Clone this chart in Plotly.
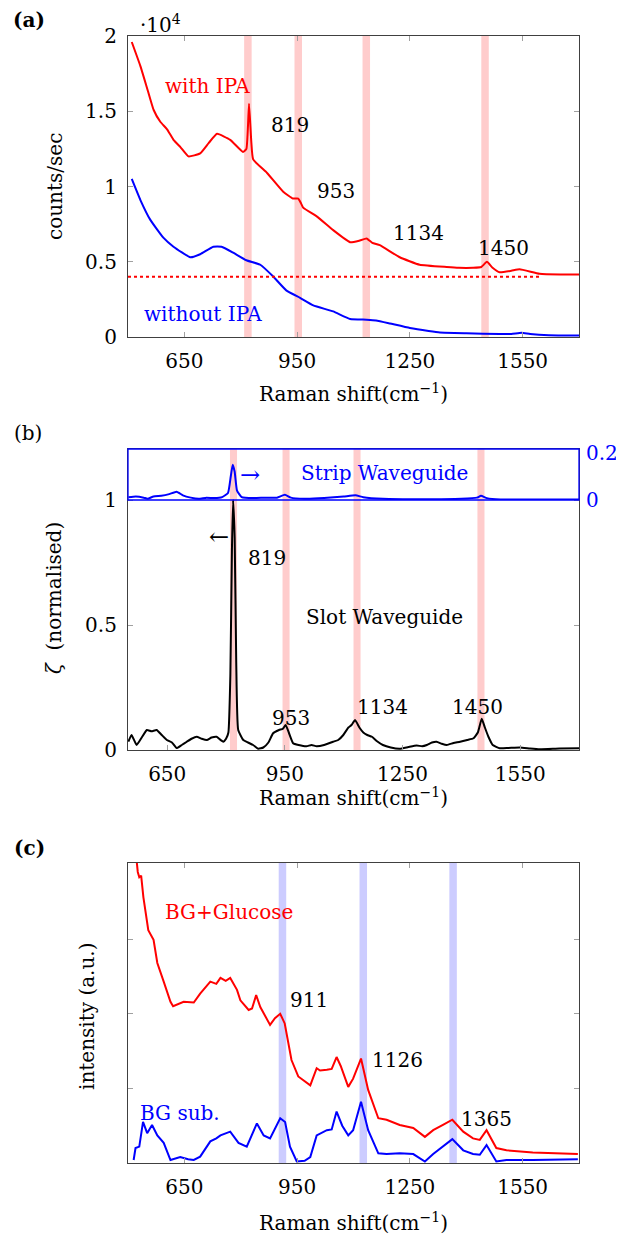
import plotly.graph_objects as go

# ---------------- data ----------------
# (a) raw Raman spectra, counts/sec
a_with_x = [510, 533, 550, 568, 586, 604, 621, 640, 661, 692, 715, 737, 772, 806, 815, 822, 828, 833,
            870, 913, 939, 953, 960, 966, 1003, 1046, 1091, 1115, 1135, 1150, 1170, 1223, 1276, 1348,
            1380, 1418, 1440, 1455, 1470, 1489, 1520, 1542, 1595, 1650, 1700]
a_with_y = [19600, 18000, 16600, 15100, 14300, 13800, 13100, 12600, 12000, 12200, 12900, 13500, 13100,
            12300, 12500, 15500, 13000, 11800, 10900, 9650, 9200, 9200, 8900, 8600, 8000, 7100, 6300,
            6400, 6550, 6250, 6100, 5300, 4800, 4650, 4600, 4600, 4650, 5000, 4600, 4300, 4400, 4500,
            4200, 4150, 4150]
a_without_x = [510, 533, 559, 594, 621, 666, 692, 727, 749, 780, 815, 852, 887, 921, 958, 993, 1046,
               1091, 1135, 1160, 1197, 1250, 1300, 1330, 1400, 1489, 1520, 1547, 1570, 1620, 1700]
a_without_y = [10500, 9100, 7800, 6600, 6000, 5300, 5500, 6000, 6000, 5600, 5100, 4800, 4000, 3100,
               2600, 2100, 1700, 1200, 1150, 1100, 900, 600, 400, 300, 250, 200, 200, 280, 200, 120, 100]
a_ref_x = [500, 1600]
a_ref_y = [4000, 4000]
a_peaks = [819, 953, 1134, 1450]
a_yticks = [0, 5000, 10000, 15000, 20000]
a_yticktext = ["0", "0.5", "1", "1.5", "2"]

# (b) normalised Raman efficiency
b_slot_x = [551, 559, 572, 585, 598, 610, 623, 636, 649, 662, 674, 687, 700, 712, 725, 738, 751, 763,
            776, 786, 793, 800, 806, 811, 815, 818, 822, 826, 831, 844, 856, 869, 882, 895, 908, 920,
            935, 945, 952, 960, 971, 985, 1005, 1018, 1031, 1050, 1073, 1086, 1099, 1112, 1120, 1129,
            1140, 1150, 1160, 1172, 1185, 1200, 1220, 1243, 1265, 1286, 1300, 1312, 1325, 1337, 1350,
            1363, 1380, 1397, 1415, 1431, 1442, 1452, 1460, 1469, 1480, 1498, 1520, 1549, 1575, 1600,
            1650, 1700]
b_slot_y = [0.033, 0.06, 0.02, 0.05, 0.08, 0.075, 0.08, 0.06, 0.04, 0.03, 0.008, 0.02, 0.033, 0.045,
            0.053, 0.045, 0.04, 0.05, 0.053, 0.04, 0.033, 0.045, 0.07, 0.3, 0.8, 1.0, 0.85, 0.35, 0.08,
            0.04, 0.03, 0.02, 0.005, 0.01, 0.03, 0.067, 0.08, 0.085, 0.10, 0.07, 0.027, 0.02, 0.015,
            0.02, 0.015, 0.02, 0.033, 0.04, 0.06, 0.09, 0.1, 0.12, 0.09, 0.07, 0.06, 0.053, 0.035, 0.02,
            0.01, 0.005, 0.012, 0.018, 0.015, 0.02, 0.03, 0.033, 0.025, 0.02, 0.028, 0.033, 0.04,
            0.047, 0.07, 0.125, 0.09, 0.053, 0.02, 0.007, 0.008, 0.01, 0.006, 0.003, 0.006, 0.007]
b_strip_x = [551, 570, 590, 600, 615, 635, 655, 674, 690, 710, 730, 750, 770, 790, 805, 812, 817, 822,
             828, 840, 870, 900, 930, 950, 965, 1000, 1050, 1100, 1130, 1150, 1200, 1300, 1400, 1440,
             1450, 1465, 1500, 1600, 1700]
b_strip_y = [0.012, 0.015, 0.01, 0.005, 0.015, 0.018, 0.025, 0.035, 0.02, 0.01, 0.005, 0.01, 0.008,
             0.012, 0.03, 0.10, 0.15, 0.12, 0.04, 0.012, 0.008, 0.01, 0.01, 0.022, 0.01, 0.005, 0.008,
             0.015, 0.02, 0.012, 0.005, 0.003, 0.005, 0.01, 0.018, 0.008, 0.002, 0.002, 0.002]
b_peaks = [819, 953, 1134, 1450]

# (c) glucose spectra (a.u.)
c_glu_x = [522, 526, 530, 535, 541, 554, 568, 578, 595, 613, 620, 648, 675, 692, 719, 735, 746, 760,
           772, 790, 799, 821, 830, 841, 852, 878, 891, 905, 917, 935, 953, 970, 985, 1002, 1011, 1029,
           1042, 1055, 1066, 1086, 1099, 1120, 1130, 1139, 1166, 1188, 1223, 1259, 1290, 1312, 1338,
           1363, 1392, 1418, 1436, 1454, 1480, 1507, 1577, 1640, 1697]
c_glu_y = [4.1, 3.9, 3.83, 3.85, 3.56, 3.12, 2.99, 2.68, 2.43, 2.16, 2.10, 2.16, 2.15, 2.27, 2.43, 2.40,
           2.48, 2.44, 2.48, 2.32, 2.18, 2.05, 2.07, 2.25, 2.09, 1.85, 1.94, 2.0, 1.87, 1.38, 1.16, 1.10,
           1.04, 1.27, 1.24, 1.25, 1.26, 1.42, 1.30, 1.02, 1.13, 1.40, 1.20, 0.98, 0.60, 0.58, 0.51,
           0.47, 0.35, 0.44, 0.51, 0.58, 0.42, 0.33, 0.31, 0.44, 0.20, 0.17, 0.14, 0.13, 0.12]
c_sub_x = [515, 520, 530, 540, 551, 564, 578, 595, 613, 639, 660, 675, 692, 719, 735, 746, 772, 794,
           816, 843, 861, 878, 905, 918, 931, 949, 970, 985, 1002, 1029, 1042, 1055, 1070, 1086, 1099,
           1120, 1139, 1166, 1188, 1223, 1259, 1290, 1312, 1338, 1363, 1392, 1418, 1436, 1454, 1480,
           1507, 1577, 1697]
c_sub_y = [0.04, 0.2, 0.22, 0.55, 0.40, 0.51, 0.37, 0.27, 0.04, 0.08, 0.05, 0.04, 0.085, 0.29, 0.33,
           0.37, 0.42, 0.27, 0.22, 0.53, 0.37, 0.33, 0.60, 0.55, 0.22, 0.02, 0.03, 0.08, 0.37, 0.44,
           0.45, 0.69, 0.50, 0.37, 0.44, 0.82, 0.44, 0.13, 0.12, 0.13, 0.12, 0.02, 0.12, 0.22, 0.32,
           0.17, 0.12, 0.11, 0.24, 0.02, 0.04, 0.04, 0.05]
c_peaks = [911, 1126, 1365]

xticks = [650, 950, 1250, 1550]

# ---------------- layout helpers ----------------
# the page body has an 8px margin, so the figure is drawn 8px in from the window corner
OFF = 8
W, H = 624 - OFF, 1239 - OFF
def fx(px):
    return (px - OFF) / W
def fy(py):
    return 1 - (py - OFF) / H

FONT = "DejaVu Serif"
FS = 20
RED, BLUE = "#ff0000", "#0000ff"
FRAME = "#404040"
TICKC = "#a0a0a0"
SM = dict(shape="spline", smoothing=0.4)

fig = go.Figure()

# ---- traces
fig.add_trace(go.Scatter(x=a_with_x, y=a_with_y, mode="lines", line=dict(color=RED, width=2, **SM),
                         xaxis="x", yaxis="y"))
fig.add_trace(go.Scatter(x=a_without_x, y=a_without_y, mode="lines",
                         line=dict(color=BLUE, width=2, **SM), xaxis="x", yaxis="y"))
fig.add_trace(go.Scatter(x=a_ref_x, y=a_ref_y, mode="lines", line=dict(color=RED, width=2, dash="dot"),
                         xaxis="x", yaxis="y"))
fig.add_trace(go.Scatter(x=b_slot_x, y=b_slot_y, mode="lines",
                         line=dict(color="black", width=2, **SM), xaxis="x2", yaxis="y2"))
fig.add_trace(go.Scatter(x=b_strip_x, y=b_strip_y, mode="lines", line=dict(color=BLUE, width=2, **SM),
                         xaxis="x2", yaxis="y4"))
fig.add_trace(go.Scatter(x=c_glu_x, y=c_glu_y, mode="lines", line=dict(color=RED, width=2),
                         xaxis="x3", yaxis="y3"))
fig.add_trace(go.Scatter(x=c_sub_x, y=c_sub_y, mode="lines", line=dict(color=BLUE, width=2),
                         xaxis="x3", yaxis="y3"))

xdom = [fx(128), fx(579)]
common_x = dict(domain=xdom, tickvals=xticks, ticks="inside", ticklen=5, tickcolor=TICKC,
                showline=True, linecolor=FRAME, linewidth=1.2, showgrid=False, zeroline=False,
                automargin=False,
                tickfont=dict(family=FONT, size=FS, color="black"), ticklabelstandoff=6)
common_y = dict(ticks="inside", ticklen=5, tickcolor=TICKC, showline=True, linecolor=FRAME,
                linewidth=1.2, showgrid=False, zeroline=False, automargin=False,
                tickfont=dict(family=FONT, size=FS, color="black"), ticklabelstandoff=6)

shapes = []
for p in a_peaks:
    shapes.append(dict(type="rect", xref="x", yref="y domain", x0=p - 10, x1=p + 10, y0=0, y1=1,
                       fillcolor="rgba(255,0,0,0.2)", line=dict(width=0), layer="below"))
for p in b_peaks:
    shapes.append(dict(type="rect", xref="x2", yref="y2 domain", x0=p - 9, x1=p + 9, y0=0, y1=1,
                       fillcolor="rgba(255,0,0,0.2)", line=dict(width=0), layer="below"))
for p in c_peaks:
    shapes.append(dict(type="rect", xref="x3", yref="y3 domain", x0=p - 10, x1=p + 10, y0=0, y1=1,
                       fillcolor="rgba(0,0,255,0.2)", line=dict(width=0), layer="below"))
# strip waveguide inset frame
shapes.append(dict(type="rect", xref="paper", yref="paper", x0=fx(128), x1=fx(579),
                   y0=fy(500), y1=fy(449), line=dict(color=BLUE, width=1.3), layer="above"))

fig.update_layout(
    template="none",
    width=W, height=H, margin=dict(l=0, r=0, t=0, b=0, autoexpand=False),
    paper_bgcolor="white", plot_bgcolor="rgba(0,0,0,0)", showlegend=False,
    font=dict(family=FONT, size=FS, color="black"),
    xaxis=dict(common_x, anchor="y", range=[500, 1700], mirror="ticks"),
    yaxis=dict(common_y, anchor="x", domain=[fy(337), fy(36)], range=[0, 20000],
               tickvals=a_yticks, ticktext=a_yticktext, mirror="ticks"),
    xaxis2=dict(common_x, anchor="y2", range=[550, 1700], mirror=True),
    yaxis2=dict(common_y, anchor="x2", domain=[fy(750), fy(449)], range=[0, 1.204],
                tickvals=[0, 0.5, 1], ticktext=["0", "0.5", "1"], mirror="ticks"),
    yaxis4=dict(anchor="x2", domain=[fy(500), fy(449)], range=[0, 0.217], side="right",
                tickvals=[0, 0.2], ticktext=["0", "0.2"], ticks="", showline=False, showgrid=False,
                zeroline=False, automargin=False,
                tickfont=dict(family=FONT, size=FS, color=BLUE), ticklabelstandoff=6),
    xaxis3=dict(common_x, anchor="y3", range=[500, 1700], mirror="ticks"),
    yaxis3=dict(common_y, anchor="x3", domain=[fy(1163), fy(863)], range=[0, 4.02],
                tickvals=[1, 2, 3], showticklabels=False, mirror="ticks"),
    shapes=shapes,
)

ann = []
def txt(text, x, y, xref="paper", yref="paper", color="black", size=FS, angle=0, xanchor="center",
        yanchor="middle"):
    ann.append(dict(text=text, x=x, y=y, xref=xref, yref=yref, showarrow=False,
                    font=dict(family=FONT, size=size, color=color), textangle=angle,
                    xanchor=xanchor, yanchor=yanchor))

# panel labels & axis titles
txt("<b>(a)</b>", fx(29), fy(20))
txt("(b)", fx(28), fy(433))
txt("<b>(c)</b>", fx(29), fy(848))
txt("·10<sup>4</sup>", fx(160), fy(9), yanchor="top")
for yy in (393, 797, 1222):
    txt("Raman shift(cm<sup>−1</sup>)", fx(353), fy(yy))
txt("counts/sec", fx(55), fy(187), angle=-90)
txt("<i>ζ</i>  (normalised)", fx(54), fy(598), angle=-90)
txt("intensity (a.u.)", fx(87), fy(1016), angle=-90)

# panel (a) labels
txt("with IPA", 711, 16700, "x", "y", color=RED)
txt("819", 932, 14100, "x", "y")
txt("953", 1053, 9700, "x", "y")
txt("1134", 1274, 6900, "x", "y")
txt("1450", 1500, 5900, "x", "y")
txt("without IPA", 700, 1500, "x", "y", color=BLUE)

# panel (b) labels
txt("819", 904, 0.768, "x2", "y2")
txt("953", 965, 0.128, "x2", "y2")
txt("1134", 1200, 0.172, "x2", "y2")
txt("1450", 1442, 0.172, "x2", "y2")
txt("Slot Waveguide", 1203, 0.532, "x2", "y2")
txt("Strip Waveguide", 1203, 1.108, "x2", "y2", color=BLUE)
# arrows pointing to the relevant axes
txt("→", 860, 1.1, "x2", "y2", color=BLUE, size=24)
txt("←", 781, 0.852, "x2", "y2", color="black", size=24)

# panel (c) labels
txt("BG+Glucose", 769, 3.36, "x3", "y3", color=RED)
txt("911", 982, 2.18, "x3", "y3")
txt("1126", 1216, 1.38, "x3", "y3")
txt("1365", 1455, 0.59, "x3", "y3")
txt("BG sub.", 639, 0.67, "x3", "y3", color=BLUE)

fig.update_layout(annotations=ann)
fig.write_html("out.html")
